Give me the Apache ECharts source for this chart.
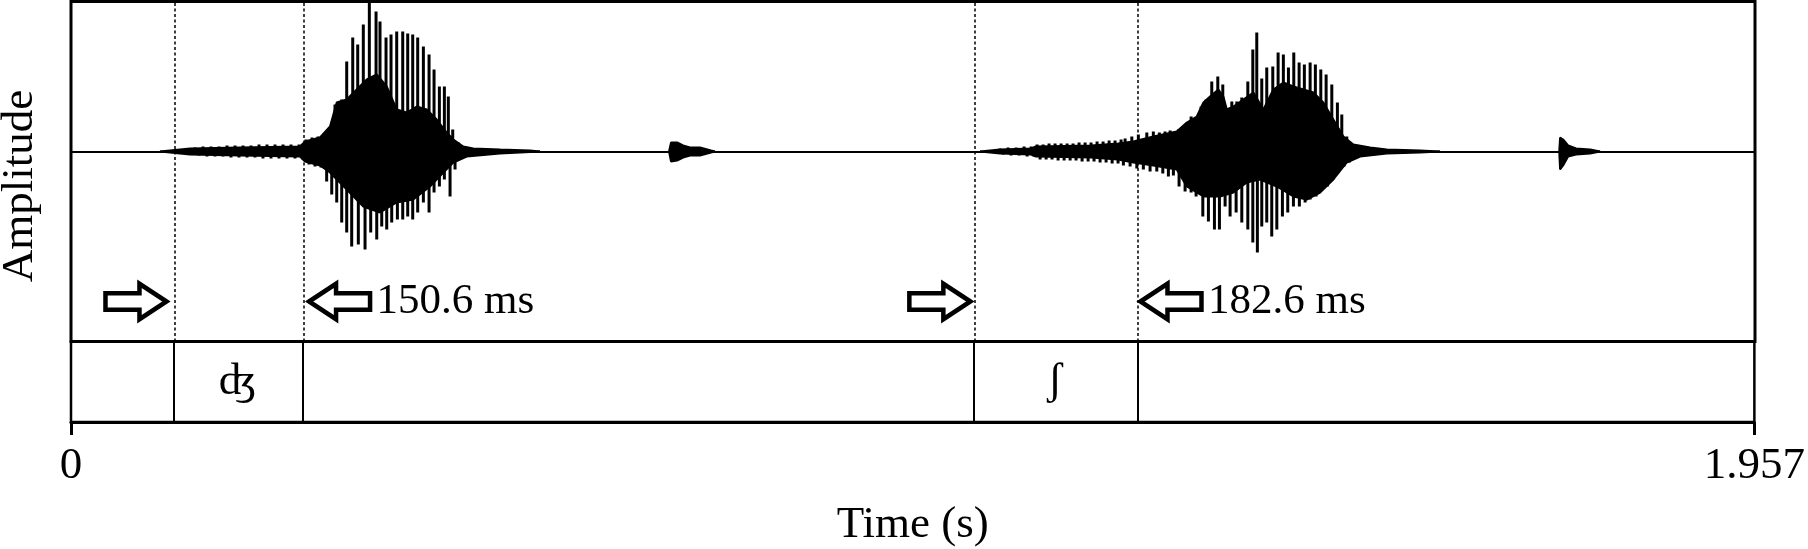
<!DOCTYPE html>
<html>
<head>
<meta charset="utf-8">
<script src="https://cdn.jsdelivr.net/npm/echarts@6/dist/echarts.min.js"></script>
<style>
html,body{margin:0;padding:0;background:#fff;}
#chart{width:1808px;height:549px;}
</style>
</head>
<body>
<div id="chart"></div>
<script>
// ---------------- data ----------------
const timeMax = 1.957;
const timeTicks = [0, 1.957];
// segment boundaries (s): [start, end] of each labelled segment
const boundaries = [0.1185, 0.2691, 1.0527, 1.2353];
const segmentLabels = ['ʤ', 'ʃ'];
const durationLabels = ['150.6 ms', '182.6 ms'];
const arrowDirections = [1, -1, 1, -1]; // 1 = points right, -1 = points left
const arrowLevel = -150;

// dense core envelopes [time s, amplitude]
const word1EnvUpper = [[0.1034,0],[0.1383,3],[0.1964,4],[0.2661,5],[0.2720,10],[0.2894,14],[0.3010,25],[0.3088,49],[0.3204,52],[0.3320,62],[0.3437,72],[0.3553,77],[0.3669,65],[0.3785,42],[0.3901,39],[0.4018,45],[0.4134,42],[0.4250,32],[0.4366,19],[0.4443,12],[0.4559,5],[0.4675,3],[0.4986,2],[0.5334,1],[0.5451,0]];
const word1EnvLower = [[0.1034,0],[0.1383,-3],[0.1964,-4],[0.2661,-5],[0.2720,-10],[0.2894,-14],[0.3010,-21],[0.3204,-38],[0.3397,-55],[0.3591,-61],[0.3785,-51],[0.3978,-48],[0.4172,-35],[0.4327,-21],[0.4443,-11],[0.4599,-5],[0.4986,-2],[0.5451,0]];
const click1EnvUpper = [[0.6950,0],[0.6973,9],[0.7043,9],[0.7113,6],[0.7194,4],[0.7310,4],[0.7438,1],[0.7484,0]];
const click1EnvLower = [[0.6950,0],[0.6973,-10],[0.7043,-9],[0.7113,-6],[0.7194,-4],[0.7310,-4],[0.7438,-1],[0.7484,0]];
const word2EnvUpper = [[1.0564,0],[1.0797,2],[1.1157,3],[1.1215,5],[1.1854,6],[1.2168,8],[1.2346,10],[1.2578,15],[1.2850,20],[1.2967,29],[1.3083,35],[1.3160,49],[1.3237,55],[1.3334,62],[1.3392,55],[1.3432,42],[1.3509,45],[1.3624,52],[1.3741,59],[1.3857,42],[1.3973,62],[1.4089,69],[1.4206,65],[1.4322,62],[1.4438,59],[1.4554,49],[1.4670,32],[1.4787,15],[1.4903,7],[1.5097,4],[1.5291,2],[1.5678,1],[1.5910,0]];
const word2EnvLower = [[1.0564,0],[1.0797,-2],[1.1157,-3],[1.1215,-5],[1.1854,-6],[1.2168,-8],[1.2346,-11],[1.2578,-14],[1.2850,-18],[1.2967,-35],[1.3160,-45],[1.3354,-45],[1.3509,-41],[1.3664,-31],[1.3819,-28],[1.4013,-35],[1.4206,-45],[1.4361,-48],[1.4516,-41],[1.4670,-28],[1.4826,-11],[1.4981,-5],[1.5291,-2],[1.5678,-1],[1.5910,0]];
const click2EnvUpper = [[1.7295,0],[1.7305,14],[1.7340,12],[1.7398,6],[1.7491,3],[1.7654,2],[1.7770,0]];
const click2EnvLower = [[1.7295,0],[1.7305,-18],[1.7340,-14],[1.7398,-5],[1.7491,-3],[1.7654,-2],[1.7770,0]];

// individual glottal-pulse spikes [time s, peak amplitude]
const word1SpikesUp = [[0.1441,4],[0.1534,5],[0.1627,5],[0.1720,5],[0.1813,6],[0.1906,6],[0.1999,6],[0.2092,6],[0.2185,7],[0.2278,7],[0.2371,7],[0.2464,7],[0.2557,7],[0.2650,7],[0.2731,12],[0.2801,14],[0.2871,15],[0.2940,18],[0.2999,20],[0.3030,24],[0.3068,47],[0.3146,52],[0.3204,90],[0.3274,114],[0.3332,107],[0.3397,127],[0.3467,150],[0.3545,140],[0.3591,130],[0.3661,114],[0.3719,117],[0.3785,120],[0.3855,120],[0.3913,118],[0.3971,117],[0.4029,114],[0.4095,105],[0.4161,97],[0.4219,82],[0.4281,65],[0.4339,65],[0.4385,55],[0.4436,22],[0.4501,9]];
const word1SpikesDown = [[0.1487,-4],[0.1580,-5],[0.1673,-5],[0.1766,-5],[0.1859,-6],[0.1952,-6],[0.2045,-6],[0.2138,-6],[0.2231,-7],[0.2324,-7],[0.2417,-7],[0.2510,-7],[0.2603,-7],[0.2696,-8],[0.2766,-13],[0.2836,-15],[0.2906,-16],[0.2971,-30],[0.3030,-43],[0.3088,-51],[0.3146,-71],[0.3204,-81],[0.3262,-95],[0.3339,-93],[0.3417,-98],[0.3483,-81],[0.3553,-88],[0.3611,-75],[0.3669,-78],[0.3727,-71],[0.3793,-68],[0.3855,-68],[0.3913,-65],[0.3971,-68],[0.4029,-61],[0.4095,-51],[0.4161,-61],[0.4219,-41],[0.4281,-35],[0.4339,-28],[0.4405,-45],[0.4463,-18]];
const word2SpikesUp = [[1.0797,3],[1.0890,4],[1.0983,4],[1.1076,5],[1.1157,5],[1.1227,7],[1.1297,7],[1.1366,8],[1.1436,8],[1.1506,8],[1.1576,8],[1.1645,8],[1.1715,9],[1.1785,9],[1.1854,9],[1.1924,10],[1.1994,10],[1.2064,11],[1.2133,11],[1.2203,12],[1.2250,13],[1.2328,15],[1.2404,17],[1.2502,19],[1.2578,20],[1.2648,19],[1.2714,20],[1.2773,21],[1.2869,22],[1.2947,27],[1.3017,35],[1.3075,32],[1.3133,45],[1.3191,52],[1.3257,70],[1.3327,75],[1.3385,67],[1.3432,42],[1.3490,50],[1.3548,50],[1.3606,54],[1.3676,70],[1.3734,102],[1.3780,119],[1.3838,73],[1.3896,84],[1.3966,85],[1.4028,99],[1.4089,97],[1.4148,84],[1.4210,99],[1.4272,89],[1.4333,87],[1.4400,89],[1.4461,87],[1.4524,82],[1.4586,77],[1.4652,67],[1.4717,49],[1.4768,37],[1.4826,15],[1.4884,7]];
const word2SpikesDown = [[1.0832,-3],[1.0925,-4],[1.1018,-4],[1.1111,-5],[1.1192,-5],[1.1262,-8],[1.1332,-8],[1.1401,-8],[1.1471,-9],[1.1541,-9],[1.1611,-9],[1.1680,-9],[1.1750,-10],[1.1820,-10],[1.1889,-10],[1.1959,-11],[1.2029,-11],[1.2099,-12],[1.2168,-12],[1.2230,-14],[1.2308,-15],[1.2386,-17],[1.2462,-18],[1.2540,-20],[1.2618,-20],[1.2688,-22],[1.2753,-25],[1.2811,-24],[1.2877,-35],[1.2947,-40],[1.3017,-41],[1.3075,-45],[1.3153,-65],[1.3218,-70],[1.3288,-78],[1.3346,-78],[1.3412,-55],[1.3470,-65],[1.3540,-61],[1.3606,-71],[1.3676,-78],[1.3734,-91],[1.3787,-101],[1.3838,-75],[1.3896,-71],[1.3954,-85],[1.4013,-78],[1.4078,-65],[1.4140,-61],[1.4206,-55],[1.4275,-55],[1.4342,-51],[1.4400,-48],[1.4469,-45],[1.4535,-38],[1.4601,-35],[1.4670,-28],[1.4729,-21],[1.4795,-15],[1.4856,-11]];

// ---------------- chart ----------------
const FONT = "'Liberation Serif', 'DejaVu Serif', 'Times New Roman', serif";
const chart = echarts.init(document.getElementById('chart'), null, {renderer: 'canvas'});

function envSeries(data) {
  return {
    type: 'line', xAxisIndex: 0, yAxisIndex: 0, data: data,
    symbol: 'none', showSymbol: false, silent: true,
    lineStyle: {color: '#000', width: 2},
    areaStyle: {color: '#000', opacity: 1},
    z: 3
  };
}
function spikeSeries(data) {
  return {
    type: 'custom', xAxisIndex: 0, yAxisIndex: 0, data: data, silent: true, z: 4,
    renderItem: function (params, api) {
      const t = api.value(0), a = api.value(1);
      const p0 = api.coord([t, 0]);
      const p1 = api.coord([t, a]);
      return {type: 'line', shape: {x1: p0[0], y1: p0[1], x2: p1[0], y2: p1[1]},
              style: {stroke: '#000', lineWidth: 3}};
    }
  };
}

const arrowData = boundaries.map((b, i) => [b, arrowDirections[i]]);
const durationData = [[boundaries[1], 0], [boundaries[3], 1]];
const segmentData = [[(boundaries[0] + boundaries[1]) / 2, 0.5], [(boundaries[2] + boundaries[3]) / 2, 0.5]];

const option = {
  animation: false,
  backgroundColor: '#fff',
  grid: [
    {left: 71, right: 53, top: 1.5, height: 340, show: true, borderColor: '#000', borderWidth: 3, backgroundColor: 'transparent'},
    {left: 71, right: 53, top: 341.5, height: 87, show: true, borderColor: '#000', borderWidth: 2.5, backgroundColor: 'transparent'}
  ],
  xAxis: [
    {gridIndex: 0, type: 'value', min: 0, max: timeMax,
     axisLine: {show: true, onZero: true, lineStyle: {color: '#000', width: 2}},
     axisTick: {show: false}, axisLabel: {show: false}, splitLine: {show: false}},
    {gridIndex: 1, type: 'value', min: timeTicks[0], max: timeMax, interval: timeTicks[1] - timeTicks[0],
     axisLine: {show: true, onZero: false, lineStyle: {color: '#000', width: 3}},
     axisTick: {show: true, inside: false, length: 13, lineStyle: {color: '#000', width: 3}},
     axisLabel: {show: true, color: '#000', fontFamily: FONT, fontSize: 45, margin: 22,
                 formatter: function (v) { return v === 0 ? '0' : String(timeTicks[1]); }},
     splitLine: {show: false},
     name: 'Time (s)', nameLocation: 'middle', nameGap: 81,
     nameTextStyle: {color: '#000', fontFamily: FONT, fontSize: 45}}
  ],
  yAxis: [
    {gridIndex: 0, type: 'value', min: -190, max: 150, show: false},
    {gridIndex: 1, type: 'value', min: 0, max: 1, show: false}
  ],
  graphic: [
    {type: 'text', x: 20, y: 186, rotation: Math.PI / 2, silent: true,
     style: {text: 'Amplitude', fill: '#000', fontFamily: FONT, fontSize: 45, align: 'center', verticalAlign: 'middle'}}
  ],
  series: [
    envSeries(word1EnvUpper), envSeries(word1EnvLower),
    envSeries(click1EnvUpper), envSeries(click1EnvLower),
    envSeries(word2EnvUpper), envSeries(word2EnvLower),
    envSeries(click2EnvUpper), envSeries(click2EnvLower),
    spikeSeries(word1SpikesUp), spikeSeries(word1SpikesDown),
    spikeSeries(word2SpikesUp), spikeSeries(word2SpikesDown),
    // arrows with dashed boundary lines in the waveform panel
    {type: 'custom', xAxisIndex: 0, yAxisIndex: 0, data: arrowData, silent: true, z: 6,
     renderItem: function (params, api) {
       const dir = api.value(1);
       const p = api.coord([api.value(0), arrowLevel]);
       const x = p[0], y = p[1];
       const tip = x - dir * 6.5;
       const head = 27, len = 61, hh = 17.75, sh = 8.25;
       const pts = [[tip, y], [tip - dir * head, y - hh], [tip - dir * head, y - sh], [tip - dir * len, y - sh],
                    [tip - dir * len, y + sh], [tip - dir * head, y + sh], [tip - dir * head, y + hh]];
       return {type: 'polygon', shape: {points: pts},
               style: {fill: '#fff', stroke: '#000', lineWidth: 4.5, lineJoin: 'miter', miterLimit: 10}};
     },
     markLine: {silent: true, symbol: 'none', label: {show: false},
                lineStyle: {color: '#000', width: 1.5, type: [3, 2.5]},
                data: boundaries.map(b => ({xAxis: b}))}
    },
    // duration labels
    {type: 'custom', xAxisIndex: 0, yAxisIndex: 0, data: durationData, silent: true, z: 6,
     renderItem: function (params, api) {
       const p = api.coord([api.value(0), arrowLevel]);
       return {type: 'text', x: p[0] + 74, y: p[1],
               style: {text: durationLabels[params.dataIndex], fill: '#000', fontFamily: FONT, fontSize: 43,
                       align: 'left', verticalAlign: 'middle'}};
     }
    },
    // segment tier: labels + solid boundaries
    {type: 'custom', xAxisIndex: 1, yAxisIndex: 1, data: segmentData, silent: true, z: 6,
     renderItem: function (params, api) {
       const p = api.coord([api.value(0), api.value(1)]);
       return {type: 'text', x: p[0], y: p[1],
               style: {text: segmentLabels[params.dataIndex], fill: '#000', fontFamily: FONT, fontSize: 45,
                       align: 'center', verticalAlign: 'middle'}};
     },
     markLine: {silent: true, symbol: 'none', label: {show: false},
                lineStyle: {color: '#000', width: 2, type: 'solid'},
                data: boundaries.map(b => ({xAxis: b}))}
    }
  ]
};
chart.setOption(option);
</script>
</body>
</html>
